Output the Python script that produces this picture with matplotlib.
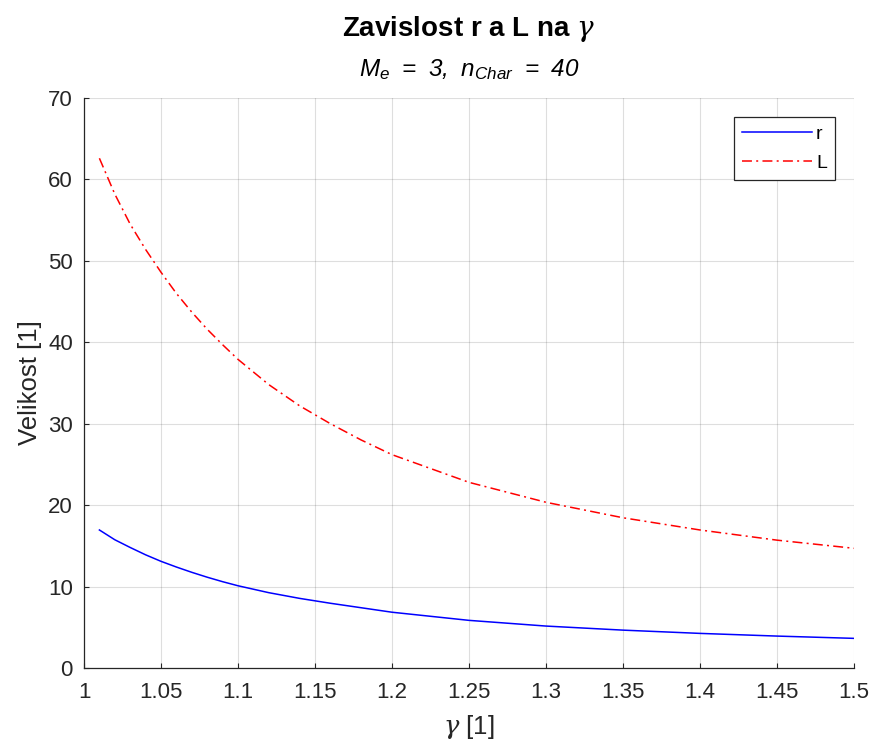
import matplotlib
matplotlib.use("Agg")
import matplotlib.pyplot as plt

plt.rcParams['font.family'] = ['Liberation Sans', 'DejaVu Sans']
plt.rcParams['mathtext.fontset'] = 'custom'
plt.rcParams['mathtext.it'] = 'DejaVu Serif:italic'
plt.rcParams['mathtext.rm'] = 'Liberation Sans'
plt.rcParams['mathtext.sf'] = 'Liberation Sans:italic'

# Data
gamma = [1.01, 1.02, 1.03, 1.04, 1.05, 1.06, 1.07, 1.08, 1.09, 1.10,
         1.12, 1.14, 1.16, 1.18, 1.20, 1.25, 1.30, 1.35, 1.40, 1.45, 1.50]
r_vals = [16.95, 15.75, 14.8, 13.9, 13.1, 12.4, 11.75, 11.15, 10.6, 10.1,
          9.25, 8.55, 7.95, 7.4, 6.85, 5.85, 5.15, 4.65, 4.25, 3.92, 3.64]
L_vals = [62.6, 58.2, 54.5, 51.4, 48.6, 46.0, 43.7, 41.6, 39.7, 37.9,
          34.8, 32.2, 30.0, 28.0, 26.2, 22.8, 20.35, 18.45, 16.95, 15.7, 14.7]

xticks = [1, 1.05, 1.1, 1.15, 1.2, 1.25, 1.3, 1.35, 1.4, 1.45, 1.5]
xticklabels = ['1', '1.05', '1.1', '1.15', '1.2', '1.25', '1.3', '1.35', '1.4', '1.45', '1.5']
yticks = [0, 10, 20, 30, 40, 50, 60, 70]

title_text = r'Zavislost r a L na $\gamma$'
subtitle_text = r'$\mathsf{M_e\ =\ 3,\ n_{Char}\ =\ 40}$'
xlabel_text = r'$\gamma$ [1]'
ylabel_text = 'Velikost [1]'

W, H = 873, 744
fig = plt.figure(figsize=(W / 100, H / 100), dpi=100)
ax = fig.add_axes([84 / W, (H - 668) / H, 770 / W, 570 / H])

dark = '#262626'
ax.plot(gamma, r_vals, color='#0000FF', lw=1.1, label='r')
lineL, = ax.plot(gamma, L_vals, color='#FF0000', lw=1.1, label='L')
lineL.set_dashes([6.5, 2.8, 1.3, 2.8])

ax.set_xlim(1, 1.5)
ax.set_ylim(0, 70)
ax.set_xticks(xticks)
ax.set_xticklabels(xticklabels)
ax.set_yticks(yticks)
ax.tick_params(direction='in', length=3.6, width=0.8, colors=dark, labelsize=16)
ax.tick_params(axis='y', pad=8)
ax.tick_params(axis='x', pad=10)
ax.grid(True, color='#262626', alpha=0.15, lw=0.8)
ax.set_axisbelow(True)
for s in ['top', 'right']:
    ax.spines[s].set_visible(False)
for s in ['left', 'bottom']:
    ax.spines[s].set_color(dark)
    ax.spines[s].set_linewidth(0.9)

ax.set_xlabel(xlabel_text, fontsize=18.5, color=dark, labelpad=7)
ax.set_ylabel(ylabel_text, fontsize=18.5, color=dark, labelpad=4)

fig.text((84 + 854) / 2 / W, 1 - 29 / H, title_text, ha='center', va='center',
         fontsize=20, fontweight='bold', color='black')
fig.text((84 + 854) / 2 / W, 1 - 70 / H, subtitle_text, ha='center', va='center',
         fontsize=17.5, color='black')

leg = ax.legend(loc='upper right', bbox_to_anchor=((835 - 84) / 770, (668 - 117) / 570),
                fontsize=14, handlelength=3.6, handletextpad=0.2, borderpad=0.42,
                labelspacing=0.6, fancybox=False, framealpha=1,
                edgecolor=dark, borderaxespad=0)
leg.get_frame().set_linewidth(0.9)

fig.savefig('out.png', dpi=100)
